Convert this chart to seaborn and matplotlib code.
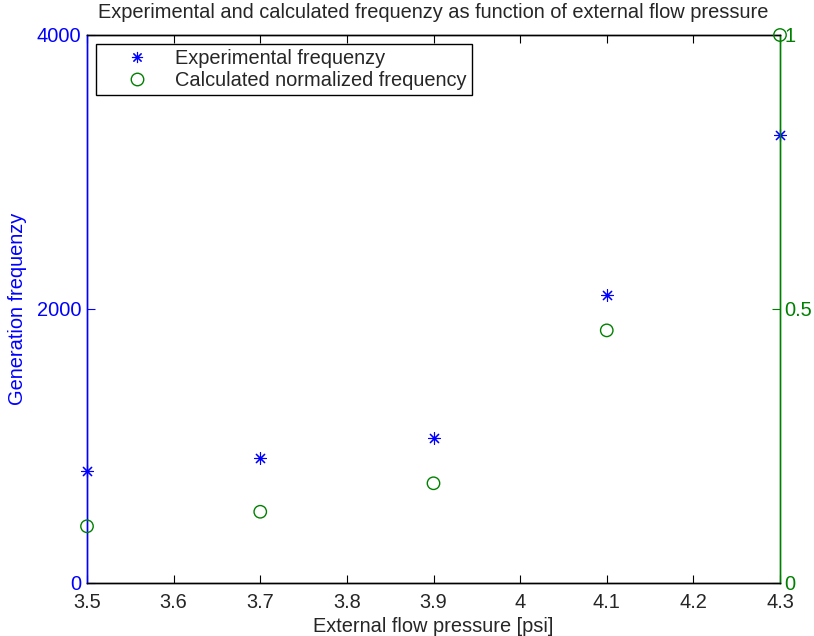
import matplotlib
matplotlib.use("Agg")
import matplotlib.pyplot as plt
import seaborn as sns
import pandas as pd
from matplotlib.lines import Line2D

pressure = [3.5, 3.7, 3.9, 4.1, 4.3]
experimental = [820, 912, 1061, 2100, 3270]
calculated = [0.1035, 0.130, 0.182, 0.461, 1.0]

x_ticks = [3.5, 3.6, 3.7, 3.8, 3.9, 4.0, 4.1, 4.2, 4.3]
x_tick_labels = ["3.5", "3.6", "3.7", "3.8", "3.9", "4", "4.1", "4.2", "4.3"]
left_ticks = [0, 2000, 4000]
right_ticks = [0, 0.5, 1]
right_tick_labels = ["0", "0.5", "1"]

df = pd.DataFrame({"p": pressure, "exp": experimental, "calc": calculated})

sns.set_style("white")
plt.rcParams['font.family'] = ['Liberation Sans', 'DejaVu Sans']

BLUE = (0, 0, 1)
GREEN = (0, 0.5, 0)
FS = 14.4

fig = plt.figure(figsize=(8.14, 6.36), dpi=100)
ax = fig.add_axes([87/814, 53/636, 693/814, 548/636])
ax2 = ax.twinx()

sns.scatterplot(data=df, x="p", y="exp", ax=ax, marker=(8, 2, 0), s=75,
                color=BLUE, edgecolor=BLUE, linewidth=0.8, zorder=3, clip_on=False)
sns.scatterplot(data=df, x="p", y="calc", ax=ax2, marker="o", s=80,
                facecolor="none", edgecolor=GREEN, linewidth=1.0, zorder=3, clip_on=False)

ax.set_xlim(3.5, 4.3)
ax.set_ylim(0, 4000)
ax2.set_ylim(0, 1)
ax.set_xticks(x_ticks)
ax.set_xticklabels(x_tick_labels, fontsize=FS)
ax.set_yticks(left_ticks)
ax.set_yticklabels([str(t) for t in left_ticks], fontsize=FS, color=BLUE)
ax2.set_yticks(right_ticks)
ax2.set_yticklabels(right_tick_labels, fontsize=FS, color=GREEN)

ax.tick_params(axis="x", direction="in", top=True, bottom=True, length=6, width=0.8, color="black", pad=7.5)
ax.tick_params(axis="y", direction="in", left=True, length=6, width=0.8, color=BLUE, pad=4)
ax2.tick_params(axis="y", direction="in", right=True, length=6, width=0.8, color=GREEN, pad=3)

for a in (ax, ax2):
    for s in a.spines.values():
        s.set_linewidth(1.0)
        s.set_color("black")
    a.spines["left"].set_color(BLUE)
    a.spines["right"].set_color(GREEN)

ax.set_xlabel("External flow pressure [psi]", fontsize=FS, labelpad=3)
ax.set_ylabel("Generation frequenzy", fontsize=FS, color=BLUE, labelpad=7)
ax2.set_ylabel("")
ax.set_title("Experimental and calculated frequenzy as function of external flow pressure",
             fontsize=FS, pad=12)

handles = [
    Line2D([], [], linestyle="none", marker=(8, 2, 0), markersize=8, color=BLUE,
           markeredgecolor=BLUE, markeredgewidth=0.8),
    Line2D([], [], linestyle="none", marker="o", markersize=9, markerfacecolor="none",
           markeredgecolor=GREEN, markeredgewidth=1.0),
]
leg = ax2.legend(handles, ["Experimental frequenzy", "Calculated normalized frequency"],
                 loc="upper left", bbox_to_anchor=(9/693, 1 - 9/548), borderaxespad=0,
                 fontsize=FS, frameon=True, fancybox=False, framealpha=1,
                 edgecolor="black", handletextpad=0.1, labelspacing=0.15,
                 borderpad=0.25, handlelength=3.6)
leg.get_frame().set_linewidth(1.0)

fig.savefig("out.png", dpi=100)
